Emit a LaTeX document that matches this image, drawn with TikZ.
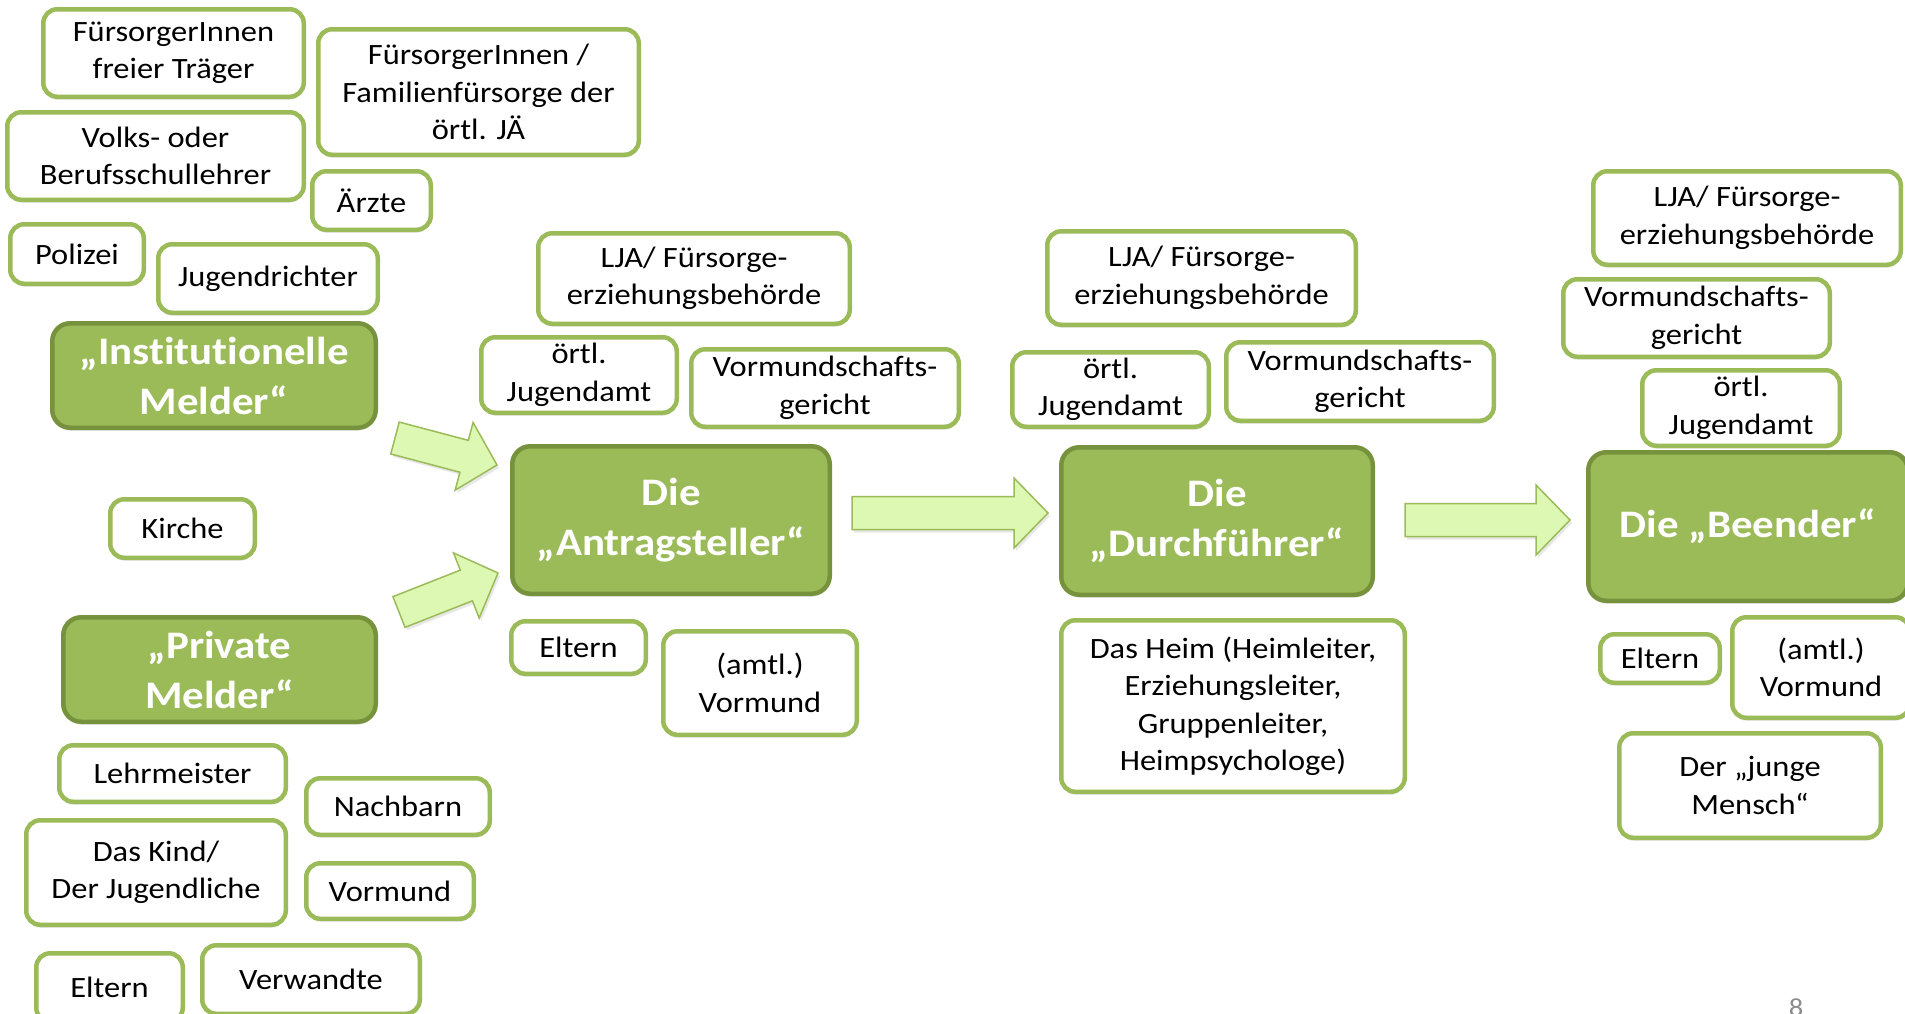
\documentclass[tikz,border=0pt]{standalone}
\usepackage{fontspec}
\setmainfont[FakeStretch=1.1,Ligatures=NoCommon]{Carlito}
\usetikzlibrary{calc,shadows}
\definecolor{mygreen}{HTML}{9BBB59}
\definecolor{mydarkgreen}{HTML}{76923C}
\definecolor{myarrowfill}{HTML}{DDF8B3}
\tikzset{
  boxbase/.style={rounded corners=14pt, line width=4.5pt, align=center, inner sep=2pt,
    drop shadow={opacity=0.18, shadow xshift=0pt, shadow yshift=-3pt}},
  wbox/.style={boxbase, draw=mygreen, fill=white, font=\fontsize{29.5}{37.5}\selectfont},
  gbox/.style={boxbase, rounded corners=18pt, draw=mydarkgreen, fill=mygreen, text=white,
    font=\fontsize{39}{50}\selectfont\bfseries},
  blk/.style={fill=myarrowfill, draw=mygreen, line width=1.5pt, line join=miter,
    drop shadow={opacity=0.18, shadow xshift=2pt, shadow yshift=-3pt}},
  pagenum/.style={text=black!45, font=\fontsize{26}{30}\selectfont, inner sep=0pt}
}
\newcommand\bx[7]{\node[#6, minimum width={#4-#2-4.5}, minimum height={#5-#3-4.5}] (#1) at ({(#2+#4)/2},{(#3+#5)/2}) {#7};}
\newcommand\blockarr[2]{%
  \coordinate (#1-hb) at ($(#2)!34pt!(#1)$);
  \filldraw[blk] ($(#1)!16.5pt!-90:(#2)$) -- ($(#1-hb)!16.5pt!-90:(#2)$) -- ($(#1-hb)!35pt!-90:(#2)$)
    -- (#2) -- ($(#1-hb)!35pt!90:(#2)$) -- ($(#1-hb)!16.5pt!90:(#2)$) -- ($(#1)!16.5pt!90:(#2)$) -- cycle;}
\begin{document}
\begin{tikzpicture}[x=1pt,y=-1pt]
\useasboundingbox (0,0) rectangle (1905,1013);
% left column
\bx{fri}{41}{7}{306}{99}{wbox}{FürsorgerInnen\\freier Träger}
\bx{fam}{316}{27}{641}{157}{wbox}{FürsorgerInnen /\\Familienfürsorge der\\örtl. JÄ}
\bx{volks}{5}{110}{306}{202}{wbox}{Volks- oder\\Berufsschullehrer}
\bx{aerzte}{310}{169}{433}{232}{wbox}{Ärzte}
\bx{polizei}{8}{222}{146}{286}{wbox}{Polizei}
\bx{richter}{156}{242}{380}{315}{wbox}{Jugendrichter}
\bx{inst}{50}{321}{378}{430}{gbox}{„Institutionelle\\Melder“}
\bx{kirche}{108}{497}{257}{560}{wbox}{Kirche}
\bx{priv}{61}{615}{378}{724}{gbox}{„Private\\Melder“}
\bx{lehr}{57}{743}{288}{804}{wbox}{Lehrmeister}
\bx{nach}{304}{776}{492}{837}{wbox}{Nachbarn}
\bx{kind}{24}{818}{288}{927}{wbox}{Das Kind/\\Der Jugendliche}
\bx{vorm}{304}{861}{476}{921}{wbox}{Vormund}
\bx{elternA}{34}{951}{185}{1024}{wbox}{Eltern}
\bx{verw}{200}{943}{422}{1016}{wbox}{Verwandte}
% stage 1
\bx{ljaA}{536}{231}{852}{326}{wbox}{LJA/ Fürsorge-\\erziehungsbehörde}
\bx{jugA}{479}{335}{679}{415}{wbox}{örtl.\\Jugendamt}
\bx{vgrA}{689}{347}{961}{429}{wbox}{Vormundschafts-\\gericht}
\bx{antrag}{510}{444}{832}{596}{gbox}{Die\\„Antragsteller“}
\bx{elternB}{509}{619}{648}{676}{wbox}{Eltern}
\bx{vormB}{661}{629}{859}{737}{wbox}{(amtl.)\\Vormund}
% stage 2
\bx{ljaB}{1045}{229}{1358}{327}{wbox}{LJA/ Fürsorge-\\erziehungsbehörde}
\bx{jugB}{1010}{350}{1211}{429}{wbox}{örtl.\\Jugendamt}
\bx{vgrB}{1224}{340}{1496}{423}{wbox}{Vormundschafts-\\gericht}
\bx{durch}{1059}{445}{1375}{597}{gbox}{Die\\„Durchführer“}
\bx{heim}{1059}{618}{1407}{794}{wbox}{Das Heim (Heimleiter,\\Erziehungsleiter,\\Gruppenleiter,\\Heimpsychologe)}
% stage 3
\bx{ljaC}{1591}{169}{1903}{267}{wbox}{LJA/ Fürsorge-\\erziehungsbehörde}
\bx{vgrC}{1561}{277}{1832}{359}{wbox}{Vormundschafts-\\gericht}
\bx{jugC}{1640}{368}{1842}{448}{wbox}{örtl.\\Jugendamt}
\bx{beender}{1586}{450}{1910}{603}{gbox}{Die „Beender“}
\bx{elternC}{1598}{632}{1722}{685}{wbox}{Eltern}
\bx{vormC}{1730}{615}{1912}{720}{wbox}{(amtl.)\\Vormund}
\bx{junge}{1617}{731}{1883}{840}{wbox}{Der „junge\\Mensch“}
% block arrows
\coordinate (a1s) at (395,438);
\coordinate (a1e) at (497,465);
\coordinate (a2s) at (399,612);
\coordinate (a2e) at (498,573);
\coordinate (a3s) at (852,513);
\coordinate (a3e) at (1048,513);
\coordinate (a4s) at (1405,520);
\coordinate (a4e) at (1570,520);
\blockarr{a1s}{a1e}
\blockarr{a2s}{a2e}
\blockarr{a3s}{a3e}
\blockarr{a4s}{a4e}
% page number
\node[pagenum, anchor=base] (pnum) at (1796,1016) {8};
\end{tikzpicture}
\end{document}
